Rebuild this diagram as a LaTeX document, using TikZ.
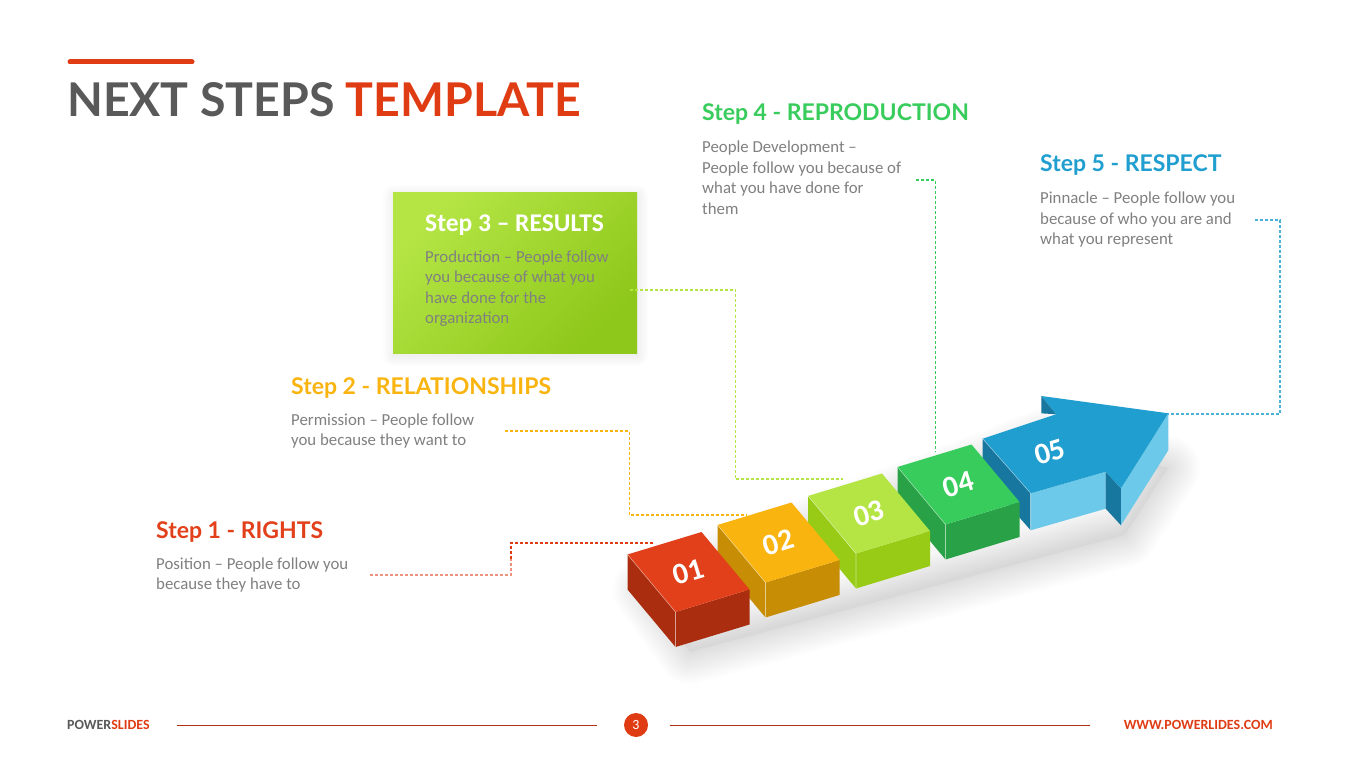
\documentclass[tikz,border=0pt]{standalone}
\usepackage{fontspec}
\usepackage{tikz}
\newfontfamily\latofont{Lato}
\newfontfamily\carlito{Carlito}
\definecolor{accent}{HTML}{E03C14}
\definecolor{titlegray}{HTML}{595959}
\definecolor{bodygray}{HTML}{808080}
\definecolor{redtop}{HTML}{E2401A}
\definecolor{redside}{HTML}{AA2D0F}
\definecolor{orangetop}{HTML}{F9B40F}
\definecolor{orangeside}{HTML}{C68D05}
\definecolor{limetop}{HTML}{B4E545}
\definecolor{limeside}{HTML}{97CB16}
\definecolor{limedark}{HTML}{8EC81A}
\definecolor{greentop}{HTML}{38CC5C}
\definecolor{greenside}{HTML}{29A146}
\definecolor{bluetop}{HTML}{1F9ECF}
\definecolor{bluedark}{HTML}{18779F}
\definecolor{bluelight}{HTML}{6DC9EA}
\tikzset{
	head/.style={font=\latofont\bfseries\fontsize{23}{26}\selectfont,text=#1,inner sep=0,anchor=base west},
	body/.style={font=\carlito\fontsize{16.8}{20.5}\selectfont,text=bodygray,align=left,inner sep=0,anchor=base west},
	num/.style={font=\carlito\bfseries\fontsize{30}{32}\selectfont,text=white,rotate=17,inner sep=0},
	link/.style={draw=#1,line width=1.1pt,dash pattern=on 3pt off 2pt},
	haze/.style={draw=black,opacity=#1,line join=round}
}
% one block: x, y of back corner, top colour, side colour, label
\newcommand{\stepcube}[5]{
	\fill[#4] (#1,#2) -- ++(48,57.5) -- ++(0,35) -- ++(-48,-57.5) -- cycle;
	\fill[#4] (#1+48,#2+57.5) -- ++(74,-22.5) -- ++(0,35) -- ++(-74,22.5) -- cycle;
	\fill[#3] (#1,#2) -- ++(74,-22.5) -- ++(48,57.5) -- ++(-74,22.5) -- cycle;
	\draw[white,opacity=0.45,line width=0.6pt] (#1,#2) -- ++(48,57.5) -- ++(0,35);
	\node[num] (n#5) at (#1+61,#2+17.5) {#5};
}

\begin{document}
\begin{tikzpicture}[x=1pt,y=-1pt]
	\useasboundingbox (0,0) rectangle (1365,767);
	\fill[white] (0,0) rectangle (1365,767);

	% title
	\draw[accent,line width=5pt,line cap=round] (70,62) -- (192,62);
	\node[inner sep=0,anchor=base west] (title) at (67,117)
		{\latofont\bfseries\fontsize{46.5}{50}\selectfont\color{titlegray}NEXT STEPS \color{accent}TEMPLATE};

	% soft shadow under the row
	\foreach \w in {64,60,...,4}
		\draw[haze=0.009,line width=\w pt] (645,590) -- (690,652) -- (1125,535) -- (1168,468) -- (1045,440) -- (990,462) -- cycle;
	\fill[black,opacity=0.03] (645,590) -- (690,652) -- (1125,535) -- (1168,468) -- (1045,440) -- (990,462) -- cycle;

	% arrow 05
	\fill[bluedark] (982.7,438.7) -- (1030.7,493.3) -- (1030.7,530.3) -- (982.7,475.7) -- cycle;
	\fill[bluelight] (1030.7,493.3) -- (1105.7,471.7) -- (1105.7,508.7) -- (1030.7,530.3) -- cycle;
	\fill[bluedark] (1105.7,471.7) -- (1121,488.3) -- (1121,525.3) -- (1105.7,508.7) -- cycle;
	\fill[bluelight] (1121,488.3) -- (1168.3,413.3) -- (1168.3,450.3) -- (1121,525.3) -- cycle;
	\fill[bluetop] (982.7,438.7) -- (1056,414.3) -- (1041.3,396) -- (1168.3,413.3) -- (1121,488.3) -- (1105.7,471.7) -- (1030.7,493.3) -- cycle;
	\fill[bluedark] (1041.3,396) -- (1056,414.3) -- (1041.3,413.3) -- cycle;
	\draw[white,opacity=0.45,line width=0.6pt] (982.7,438.7) -- (1030.7,493.3) -- (1030.7,530.3);
	\node[num] (n05) at (1050,452) {05};
	\coordinate (tip) at (1168.3,414);

	% blocks, back to front
	\stepcube{897.5}{467}{greentop}{greenside}{04}
	\stepcube{808}{496}{limetop}{limeside}{03}
	\stepcube{717.5}{525}{orangetop}{orangeside}{02}
	\stepcube{627.5}{554.5}{redtop}{redside}{01}

	% step 1
	\node[head=redtop] (h1) at (156,538) {Step 1 - RIGHTS};
	\node[body] (b1) at (156,589.5) {Position – People follow you\\because they have to};
	% step 2
	\node[head=orangetop] (h2) at (291,394) {Step 2 - RELATIONSHIPS};
	\node[body] (b2) at (291,445.5) {Permission – People follow\\you because they want to};
	% step 3
	\foreach \w in {22,19,...,1}
		\draw[haze=0.008,line width=\w pt] (394,196) rectangle (637,355);
	\fill[top color=limetop,bottom color=limedark,shading angle=45] (393,193) rectangle (637,353);
	\node[inner sep=0,anchor=base west,font=\carlito\bfseries\fontsize{25.5}{28}\selectfont,text=white] (h3) at (425,232) {Step 3 – RESULTS};
	\node[body] (b3) at (425,323.5) {Production – People follow\\you because of what you\\have done for the\\organization};
	% step 4
	\node[head=greentop] (h4) at (702,121) {Step 4 - REPRODUCTION};
	\node[body] (b4) at (702,214.5) {People Development –\\People follow you because of\\what you have done for\\them};
	% step 5
	\node[head=bluetop] (h5) at (1040,172) {Step 5 - RESPECT};
	\node[body] (b5) at (1040,245) {Pinnacle – People follow you\\because of who you are and\\what you represent};

	% leader lines
	\coordinate (c1) at (370,575);
	\coordinate (c2) at (505,431);
	\coordinate (c3) at (630,290);
	\coordinate (c4) at (916,180);
	\coordinate (c5) at (1255,220);
	\draw[link=accent!55] (c1) -- (511,575) -- (511,559);
	\draw[link=accent] (511,559) |- (653,543);
	\draw[link=orangetop] (c2) -| (629.5,515) -- (747,515);
	\draw[link=limetop] (c3) -| (735.5,479) -- (843,479);
	\draw[link=greentop] (c4) -| (935.2,452);
	\draw[link=bluetop!80] (c5) -| (1280,414) -- (tip);

	% footer
	\node[inner sep=0,anchor=base west,font=\carlito\bfseries\fontsize{14}{16}\selectfont] (brand) at (67,729)
		{\color{titlegray}POWER\color{accent}SLIDES};
	\node[inner sep=0,anchor=base east,font=\carlito\bfseries\fontsize{14}{16}\selectfont,text=accent] (web) at (1273,729)
		{WWW.POWERLIDES.COM};
	\node[circle,fill=accent,minimum size=24pt,inner sep=0,text=white,font=\carlito\fontsize{14}{16}\selectfont] (page) at (636,725) {3};
	\coordinate (l1) at (177,725);
	\coordinate (l2) at (597,725);
	\coordinate (l3) at (670,725);
	\coordinate (l4) at (1090,725);
	\draw[accent!80!black,line width=0.8pt] (l1) -- (l2);
	\draw[accent!80!black,line width=0.8pt] (l3) -- (l4);
\end{tikzpicture}
\end{document}
